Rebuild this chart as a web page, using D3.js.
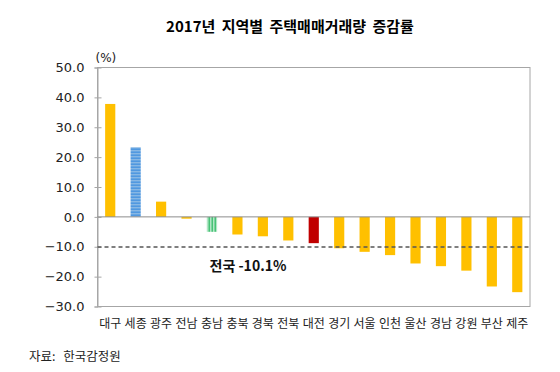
<!DOCTYPE html>
<html>
<head>
<meta charset="utf-8">
<script src="https://cdn.jsdelivr.net/npm/d3@7"></script>
<style>
  body { margin: 0; background: #fff; }
  text { font-family: "Noto Sans CJK KR", "DejaVu Sans", sans-serif; }
</style>
</head>
<body>
<div id="chart-area"></div>
<script>
// data
const regions = ["대구","세종","광주","전남","충남","충북","경북","전북","대전","경기","서울","인천","울산","경남","강원","부산","제주"];
const changeRate = [37.8, 23.3, 5.1, -0.6, -5.0, -5.9, -6.5, -7.9, -8.8, -10.5, -11.7, -12.8, -15.6, -16.5, -18.0, -23.3, -25.2];
const nationalRate = -10.1;
const yTicks = [50, 40, 30, 20, 10, 0, -10, -20, -30];

// layout
const W = 560, H = 372;
const margin = {top: 67.5, right: 30, bottom: 65.5, left: 97.5},
    width = W - margin.left - margin.right,
    height = H - margin.top - margin.bottom;

const svg = d3.select("#chart-area")
  .append("svg")
    .attr("width", W)
    .attr("height", H);

// patterns for 세종 / 충남
const defs = svg.append("defs");
const pBlue = defs.append("pattern")
    .attr("id", "blueStripe")
    .attr("patternUnits", "userSpaceOnUse")
    .attr("width", 4).attr("height", 3);
pBlue.append("rect").attr("width", 4).attr("height", 3).attr("fill", "#9dc3e6");
pBlue.append("rect").attr("width", 4).attr("height", 1.4).attr("fill", "#2e86de");

const pGreen = defs.append("pattern")
    .attr("id", "greenStripe")
    .attr("patternUnits", "userSpaceOnUse")
    .attr("width", 3).attr("height", 4);
pGreen.append("rect").attr("width", 3).attr("height", 4).attr("fill", "#e6f8ec");
pGreen.append("rect").attr("width", 1.5).attr("height", 4).attr("fill", "#12b04f");

// title
svg.append("text")
    .attr("x", 290).attr("y", 32)
    .attr("text-anchor", "middle")
    .style("font-size", "15px")
    .style("font-weight", "bold")
    .style("word-spacing", "3px")
    .text("2017년 지역별 주택매매거래량 증감률");

const g = svg.append("g")
    .attr("transform", `translate(${margin.left}, ${margin.top})`);

const x = d3.scaleBand()
    .domain(regions)
    .range([0, width])
    .paddingInner(0.6)
    .paddingOuter(0.3);

const y = d3.scaleLinear()
    .domain([-30, 50])
    .range([height, 0]);

// frame
g.append("rect")
    .attr("width", width).attr("height", height)
    .attr("fill", "none")
    .attr("stroke", "#a6a6a6")
    .attr("stroke-width", 1);

// Y axis
const yAxis = g.append("g")
    .call(d3.axisLeft(y).tickValues(yTicks).tickFormat(d3.format(".1f")).tickSize(3).tickPadding(10));
yAxis.select(".domain").attr("stroke", "#a6a6a6");
yAxis.selectAll("line").attr("stroke", "#a6a6a6").attr("x2", 4).attr("x1", -3);
yAxis.selectAll("text")
    .style("font-family", "'DejaVu Sans', sans-serif")
    .style("font-size", "13px")
    .attr("fill", "#222");

g.append("text")
    .attr("x", -2).attr("y", -6)
    .style("font-family", "'DejaVu Sans', sans-serif")
    .style("font-size", "12px")
    .attr("fill", "#222")
    .text("(%)");

// bars
const fillFor = d => d === "세종" ? "url(#blueStripe)"
  : d === "충남" ? "url(#greenStripe)"
  : d === "대전" ? "#c00000" : "#ffc000";

g.selectAll(".bar")
  .data(regions)
  .enter()
  .append("rect")
    .attr("class", "bar")
    .attr("x", d => x(d))
    .attr("y", (d, i) => y(Math.max(0, changeRate[i])))
    .attr("width", x.bandwidth())
    .attr("height", (d, i) => Math.abs(y(changeRate[i]) - y(0)))
    .attr("fill", fillFor);

// zero line
g.append("line")
    .attr("x1", 0).attr("x2", width)
    .attr("y1", y(0)).attr("y2", y(0))
    .attr("stroke", "#8c8c8c");

// national average
g.append("line")
    .attr("x1", 0).attr("x2", width)
    .attr("y1", y(nationalRate)).attr("y2", y(nationalRate))
    .attr("stroke", "#555")
    .attr("stroke-width", 1.5)
    .attr("stroke-dasharray", "4,3");

g.append("text")
    .attr("x", 112).attr("y", y(nationalRate) + 24)
    .style("font-size", "14px")
    .style("font-weight", "bold")
    .attr("fill", "#111")
    .text("전국 -10.1%");

// category labels
g.selectAll(".cat")
  .data(regions)
  .enter()
  .append("text")
    .attr("class", "cat")
    .attr("x", d => x(d) + x.bandwidth() / 2)
    .attr("y", height + 21)
    .attr("text-anchor", "middle")
    .style("font-size", "12px")
    .attr("fill", "#222")
    .text(d => d);

// source
svg.append("text")
    .attr("x", 29).attr("y", 361)
    .style("font-size", "12.5px")
    .style("word-spacing", "5px")
    .attr("fill", "#222")
    .text("자료: 한국감정원");
</script>
</body>
</html>
